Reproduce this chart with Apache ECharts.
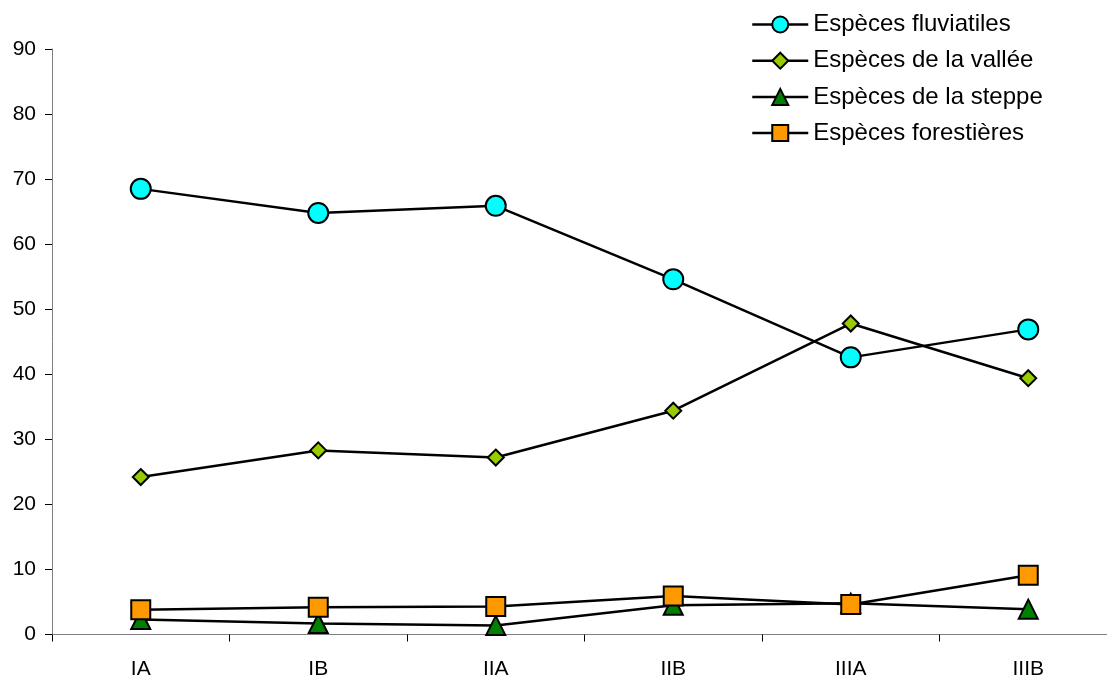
<!DOCTYPE html>
<html>
<head>
<meta charset="utf-8">
<script src="https://cdn.jsdelivr.net/npm/echarts@6/dist/echarts.min.js"></script>
<style>html,body{margin:0;padding:0;background:#fff;overflow:hidden}#c{width:1117px;height:677px}</style>
</head>
<body>
<div id="c"></div>
<script>
const categories = ['IA', 'IB', 'IIA', 'IIB', 'IIIA', 'IIIB'];
const fluviatiles = [68.5, 64.8, 65.9, 54.6, 42.6, 46.9];
const vallee = [24.2, 28.3, 27.2, 34.4, 47.8, 39.4];
const steppe = [2.3, 1.7, 1.4, 4.5, 4.8, 3.9];
const forestieres = [3.8, 4.2, 4.3, 5.9, 4.6, 9.1];
const yTicks = { min: 0, max: 90, interval: 10 };

const font = 'Liberation Sans, Arial, sans-serif';
function mk(name, data, symbol, size, color) {
  return {
    name, type: 'line', data, symbol, symbolSize: size,
    showAllSymbol: true,
    lineStyle: { color: '#000', width: 2.5 },
    itemStyle: { color: color, borderColor: '#000', borderWidth: 2 },
    emphasis: { disabled: true },
    animation: false
  };
}
const chart = echarts.init(document.getElementById('c'));
chart.setOption({
  backgroundColor: '#fff',
  animation: false,
  grid: { left: 52, top: 49, right: 0, bottom: 42.5, outerBoundsMode: 'none', containLabel: false },
  legend: {
    orient: 'vertical', left: 751, top: 12.5, padding: 0,
    itemWidth: 56, itemHeight: 20, itemGap: 12.2,
    lineStyle: { width: 2.5, color: '#000' },
    textStyle: { fontFamily: font, fontSize: 24, color: '#000', padding: [0, 0, 0, 0] },
    data: ['Espèces fluviatiles', 'Espèces de la vallée', 'Espèces de la steppe', 'Espèces forestières']
  },
  xAxis: {
    type: 'category', data: categories, boundaryGap: true,
    axisLine: { lineStyle: { color: '#808080', width: 1 } },
    axisTick: { show: true, inside: false, length: 7, lineStyle: { color: '#000' } },
    axisLabel: { fontFamily: font, fontSize: 21, color: '#000', margin: 24 },
    splitLine: { show: false }
  },
  yAxis: {
    type: 'value', min: yTicks.min, max: yTicks.max, interval: yTicks.interval,
    axisLine: { show: true, lineStyle: { color: '#808080', width: 1 } },
    axisTick: { show: true, inside: false, length: 7, lineStyle: { color: '#000' } },
    axisLabel: { fontFamily: font, fontSize: 21, color: '#000', margin: 16 },
    splitLine: { show: false }
  },
  series: [
    mk('Espèces fluviatiles', fluviatiles, 'circle', 20, '#00ffff'),
    mk('Espèces de la vallée', vallee, 'diamond', 16, '#99cc00'),
    mk('Espèces de la steppe', steppe, 'triangle', 19, '#008000'),
    mk('Espèces forestières', forestieres, 'rect', 19, '#ff9900')
  ]
});
</script>
</body>
</html>
